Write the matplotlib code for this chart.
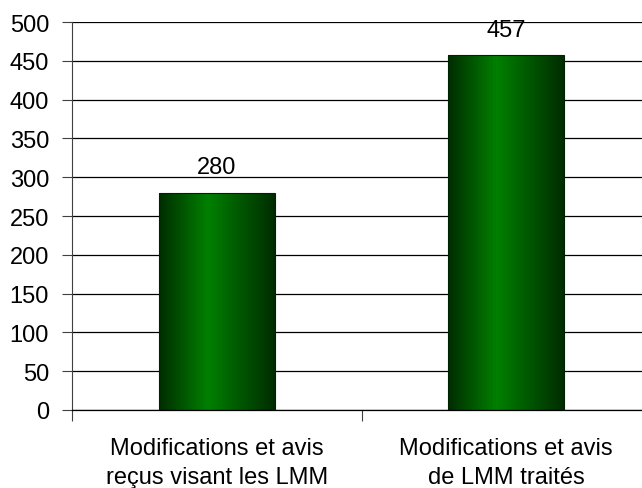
import matplotlib
matplotlib.use('Agg')
import matplotlib.pyplot as plt
import numpy as np
from matplotlib.colors import LinearSegmentedColormap

plt.rcParams['font.family'] = ['Liberation Sans', 'DejaVu Sans']

categories = ['Modifications et avis\nreçus visant les LMM', 'Modifications et avis\nde LMM traités']
values = [280, 457]
yticks = [0, 50, 100, 150, 200, 250, 300, 350, 400, 450, 500]

fig = plt.figure(figsize=(6.42, 4.89), dpi=100)
ax = fig.add_axes([72 / 642, 78 / 489, 579 / 642, 388 / 489])

x = np.arange(len(categories))
bars = ax.bar(x, values, width=0.4, facecolor='none', edgecolor='#002200',
              linewidth=0.8, zorder=3)

# horizontal gradient: dark edges, bright green a bit left of centre
cmap = LinearSegmentedColormap.from_list(
    'grn', [(0.0, '#002c00'), (0.42, '#008000'), (1.0, '#002c00')])
grad = np.linspace(0, 1, 256).reshape(1, -1)
for b in bars:
    x0, y0 = b.get_x(), b.get_y()
    w, h = b.get_width(), b.get_height()
    im = ax.imshow(grad, cmap=cmap, aspect='auto', extent=[x0, x0 + w, y0, y0 + h],
                   zorder=2, interpolation='bicubic')
    im.set_clip_path(b)

for xi, v in zip(x, values):
    ax.annotate(str(v), (xi, v), xytext=(0, 14), textcoords='offset points',
                ha='center', va='baseline', fontsize=17)

ax.set_xlim(-0.5, len(categories) - 0.5)
ax.set_ylim(0, 500)
ax.set_yticks(yticks)
ax.tick_params(axis='y', labelsize=17, length=7, width=0.8, color='#404040', pad=9.5)
ax.yaxis.grid(True, color='black', linewidth=0.9, zorder=0)
ax.set_axisbelow(True)

ax.set_xticks(np.arange(len(categories) + 1) - 0.5, minor=True)
ax.set_xticks(x)
ax.set_xticklabels(categories, fontsize=17, linespacing=1.38)
ax.tick_params(axis='x', which='major', length=0, pad=19.5)
ax.tick_params(axis='x', which='minor', length=8, width=0.8, color='#404040')

for s in ['top', 'right']:
    ax.spines[s].set_visible(False)
ax.spines['left'].set_color('#404040')
ax.spines['left'].set_linewidth(0.8)
ax.spines['bottom'].set_color('black')
ax.spines['bottom'].set_linewidth(0.9)

fig.savefig('out.png', dpi=100)
